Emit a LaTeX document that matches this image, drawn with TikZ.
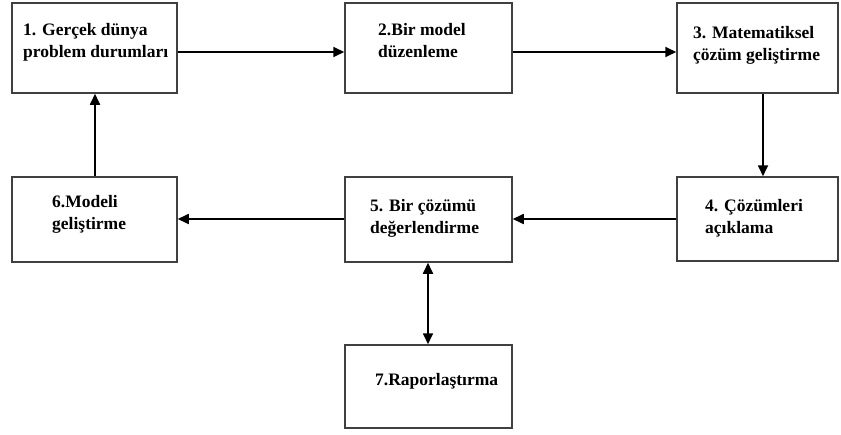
\documentclass[tikz,border=0pt]{standalone}
\usepackage{fontspec}
\setmainfont{Liberation Serif}
\usetikzlibrary{arrows.meta}
\begin{document}
\begin{tikzpicture}[x=1pt,y=-1pt,
  stagebox/.style={draw=black!75,line width=1.5pt,inner sep=0pt},
  label/.style={anchor=base west,inner sep=0pt,align=left,
    font=\fontsize{17.5}{22}\selectfont\bfseries},
  flow/.style={line width=1.7pt,-{Triangle[length=11pt,width=10pt]}},
  both/.style={line width=1.7pt,{Triangle[length=11pt,width=10pt]}-{Triangle[length=11pt,width=10pt]}}]
\useasboundingbox (0,0) rectangle (841,434);
% stage boxes
\node[stagebox,minimum width=165pt,minimum height=90pt] (b1) at (94.5,48) {};
\node[stagebox,minimum width=167pt,minimum height=90pt] (b2) at (428.5,48) {};
\node[stagebox,minimum width=161pt,minimum height=90pt] (b3) at (757.5,48) {};
\node[stagebox,minimum width=161pt,minimum height=84pt] (b4) at (757.5,219) {};
\node[stagebox,minimum width=167pt,minimum height=85pt] (b5) at (428.5,219.5) {};
\node[stagebox,minimum width=165pt,minimum height=85pt] (b6) at (94.5,219.5) {};
\node[stagebox,minimum width=167pt,minimum height=83pt] (b7) at (428.5,386.5) {};
% stage titles (anchored at the baseline of their last line)
\node[label] (t1) at (23,57) {1. Gerçek dünya\\problem durumları};
\node[label] (t2) at (378,57) {2.Bir model\\düzenleme};
\node[label] (t3) at (693,60) {3. Matematiksel\\çözüm geliştirme};
\node[label] (t4) at (705,233) {4. Çözümleri\\açıklama};
\node[label] (t5) at (370,233) {5. Bir çözümü\\değerlendirme};
\node[label] (t6) at (52,229) {6.Modeli\\geliştirme};
\node[label] (t7) at (375,385) {7.Raporlaştırma};
% connectors
\draw[flow] (b1.east |- 0,52) -- (b2.west |- 0,52);
\draw[flow] (b2.east |- 0,52) -- (b3.west |- 0,52);
\draw[flow] (b3.south -| 763,0) -- (b4.north -| 763,0);
\draw[flow] (b4.west |- 0,219) -- (b5.east |- 0,219);
\draw[flow] (b5.west |- 0,219) -- (b6.east |- 0,219);
\draw[flow] (b6.north -| 95,0) -- (b1.south -| 95,0);
\draw[both] (b5.south -| 428,0) -- (b7.north -| 428,0);
\end{tikzpicture}
\end{document}
